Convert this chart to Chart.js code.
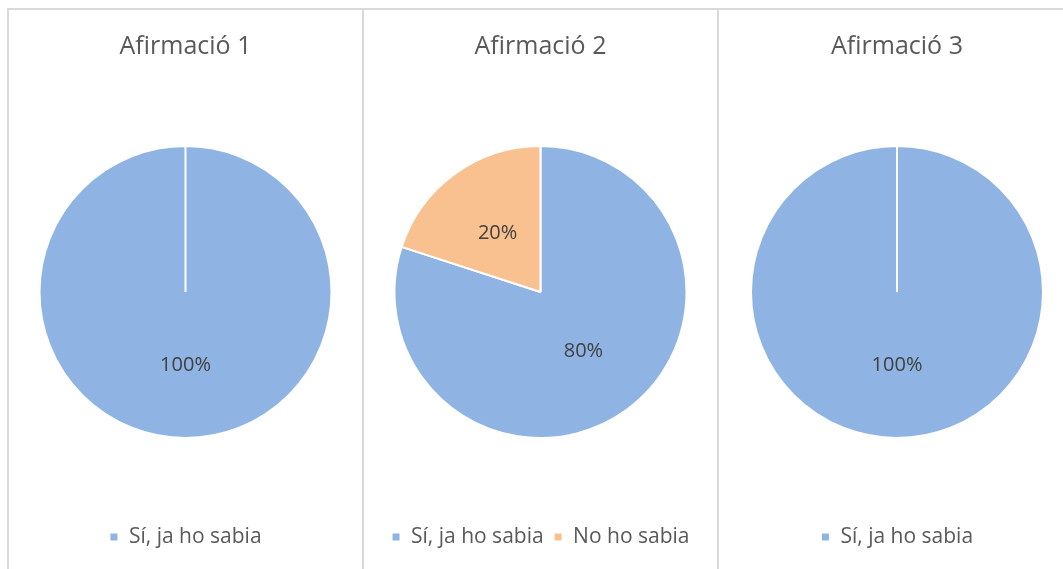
<!DOCTYPE html>
<html>
<head>
<meta charset="utf-8">
<script src="https://cdn.jsdelivr.net/npm/chart.js@4/dist/chart.umd.min.js"></script>
<style>
  html, body { margin: 0; padding: 0; background: #fff; overflow: hidden; }
  .panel { position: absolute; top: 8px; border-left: 2px solid #d9d9d9; border-top: 2px solid #d9d9d9; }
</style>
</head>
<body>
<div class="panel" style="left:7px"><canvas id="c1" width="353" height="559"></canvas></div>
<div class="panel" style="left:362px"><canvas id="c2" width="353" height="559"></canvas></div>
<div class="panel" style="left:717px"><canvas id="c3" width="356" height="559"></canvas></div>
<script>
const titles = ["Afirmació 1", "Afirmació 2", "Afirmació 3"];
const labels1 = ["Sí, ja ho sabia"];
const labels2 = ["Sí, ja ho sabia", "No ho sabia"];
const labels3 = ["Sí, ja ho sabia"];
const values1 = [100];
const values2 = [80, 20];
const values3 = [100];
const colours = ["#8fb4e3", "#f9c18f"];

// percentage labels inside slices, about half way out
const sliceLabels = {
  id: "sliceLabels",
  afterDatasetsDraw(chart) {
    const ctx = chart.ctx;
    const data = chart.data.datasets[0].data;
    const total = data.reduce((a, b) => a + b, 0);
    chart.getDatasetMeta(0).data.forEach((arc, i) => {
      const p = arc.getProps(["x", "y", "startAngle", "endAngle", "outerRadius"], true);
      const mid = (p.startAngle + p.endAngle) / 2;
      const d = p.outerRadius * 0.5;
      ctx.save();
      ctx.fillStyle = "#404040";
      ctx.font = "20px 'Open Sans'";
      ctx.textAlign = "center";
      ctx.textBaseline = "middle";
      ctx.fillText(Math.round(data[i] / total * 100) + "%", p.x + Math.cos(mid) * d, p.y + Math.sin(mid) * d);
      ctx.restore();
    });
  }
};

function makePie(id, title, labels, values) {
  new Chart(document.getElementById(id), {
    type: "pie",
    data: {
      labels: labels,
      datasets: [{
        data: values,
        backgroundColor: colours.slice(0, values.length),
        borderColor: "#ffffff",
        borderWidth: 2,
        radius: 146
      }]
    },
    options: {
      responsive: false,
      animation: false,
      layout: { padding: { left: 0, right: 0, top: 0, bottom: 11.5 } },
      plugins: {
        title: {
          display: true,
          text: title,
          color: "#595959",
          font: { family: "'Open Sans'", size: 25, weight: "normal" },
          padding: { top: 22, bottom: 5.5 }
        },
        legend: {
          position: "bottom",
          labels: {
            color: "#595959",
            font: { family: "'Open Sans'", size: 21 },
            boxWidth: 9,
            boxHeight: 9,
            padding: 10
          }
        },
        tooltip: { enabled: false }
      }
    },
    plugins: [sliceLabels]
  });
}

makePie("c1", titles[0], labels1, values1);
makePie("c2", titles[1], labels2, values2);
makePie("c3", titles[2], labels3, values3);
</script>
</body>
</html>
